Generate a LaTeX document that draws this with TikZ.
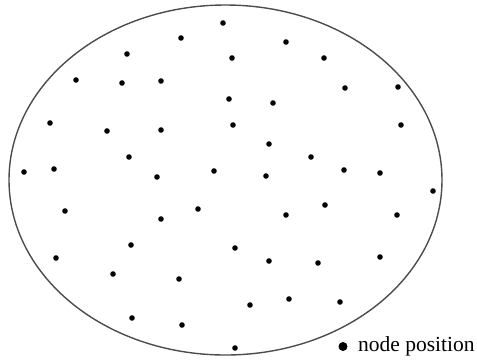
\documentclass[tikz,border=0pt]{standalone}
\usepackage{fontspec}
\usetikzlibrary{shapes.geometric}
\setmainfont{Liberation Serif}
\begin{document}
\begin{tikzpicture}[x=1pt,y=-1pt,
  sensor/.style={circle,fill=black,inner sep=0pt,minimum size=5.6pt},
  legdot/.style={circle,fill=black,inner sep=0pt,minimum size=9pt},
  field/.style={draw=black!70,line width=1.4pt}]
\useasboundingbox (0,0) rectangle (477,360);
\node[field,ellipse,minimum width=433pt,minimum height=350pt,inner sep=0pt] (fieldarea) at (225.5,180) {};
\foreach \x/\y [count=\i] in {
223/23, 181/38, 127/54, 232/58, 76/80, 122/83, 161/81, 229/99,
50/123, 107/131, 161/130, 233/125, 129/157, 24/172, 54/169, 157/177, 214/171,
286/42, 324/58, 345/88, 398/87, 273/103, 401/125, 269/144, 311/157,
344/170, 380/173, 266/176,
65/211, 161/219, 198/209, 131/245, 235/248, 56/258, 113/274, 179/279,
132/318, 182/325, 235/348,
433/191, 325/205, 286/215, 397/215, 269/261, 318/263, 380/257,
250/305, 289/299, 340/302}
  \node[sensor] (n\i) at (\x,\y) {};
\node[legdot] (legend) at (343,346.5) {};
\node[anchor=west,inner sep=0pt,font=\fontsize{21.5}{24}\selectfont] (legtext) at (358,346) {node position};
\end{tikzpicture}
\end{document}
